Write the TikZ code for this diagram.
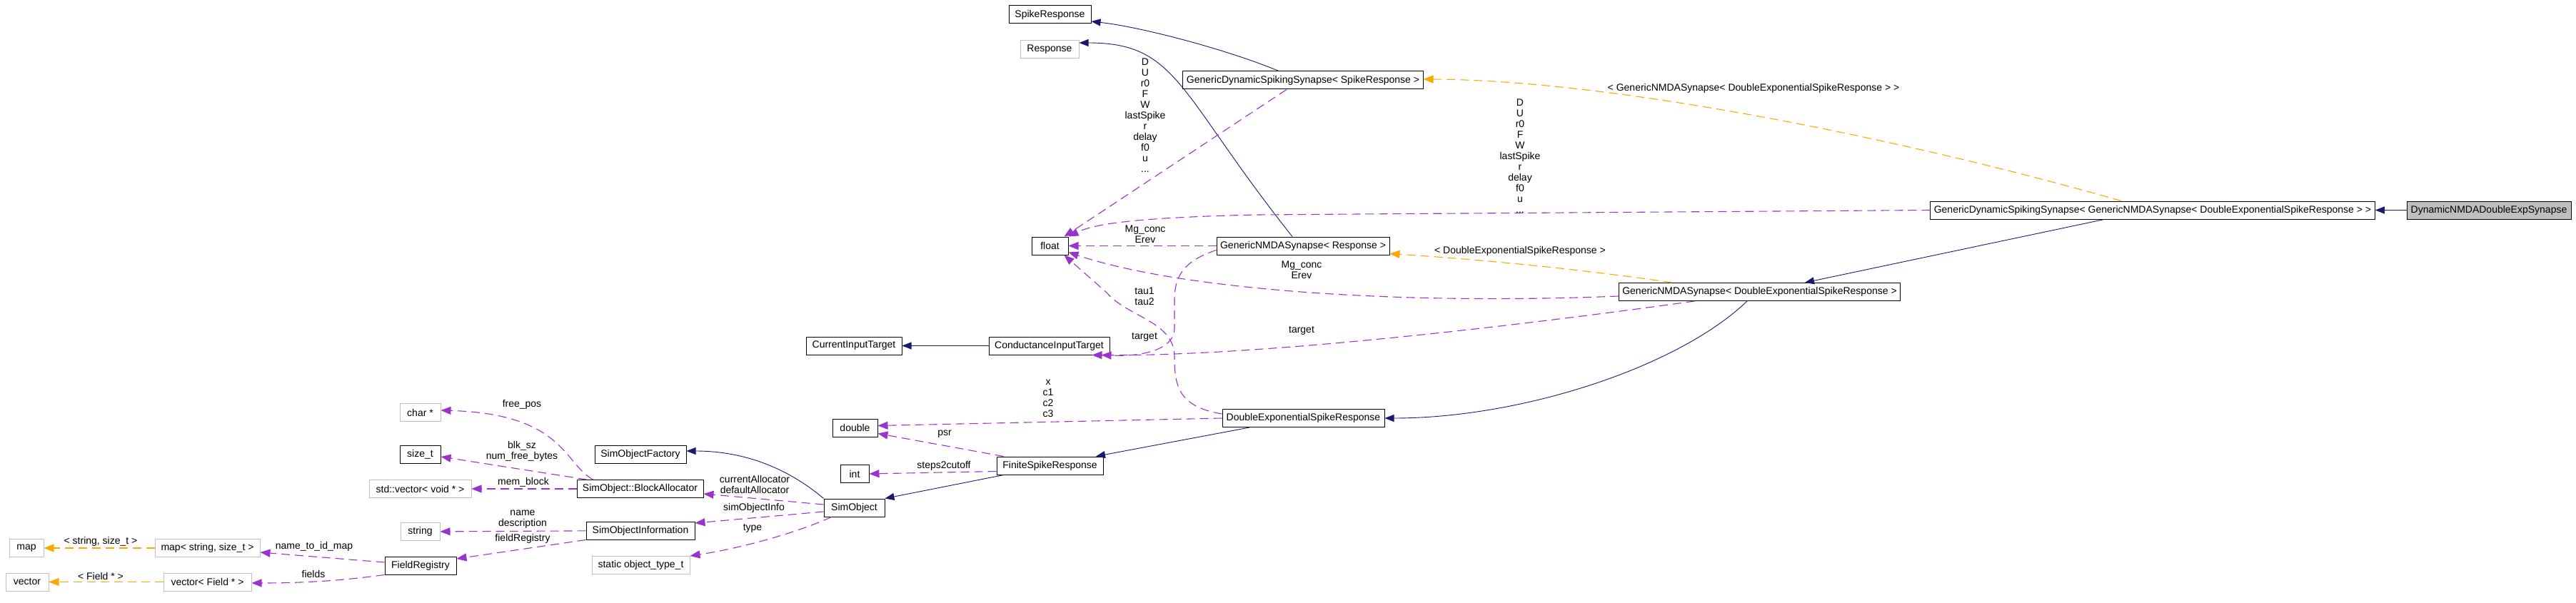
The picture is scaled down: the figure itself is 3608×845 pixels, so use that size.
\documentclass[tikz,border=0pt]{standalone}
\usepackage{fontspec}
\setmainfont{Liberation Sans}
\usetikzlibrary{arrows.meta}

\definecolor{edgeblue}{RGB}{25,25,112}
\definecolor{mempurple}{RGB}{154,50,205}
\definecolor{tplorange}{RGB}{255,165,0}
\definecolor{extgray}{RGB}{191,191,191}
\newcommand{\dfont}{\fontsize{14}{15}\selectfont}

\begin{document}
\begin{tikzpicture}
    [x=1pt, y=-1pt,
    block/.style={rectangle, draw=black, line width=1pt, minimum height=25pt,
    inner xsep=5pt, inner ysep=2pt, font=\dfont},
    ext/.style={block, draw=extgray},
    inh/.style={draw=edgeblue, line width=0.9pt, -{Triangle[length=13pt,width=10pt]}},
    mem/.style={draw=mempurple, line width=1.1pt, dash pattern=on 12pt off 7pt,
    -{Triangle[length=14pt,width=11pt]}},
    tpl/.style={mem, draw=tplorange},
    lbl/.style={font=\dfont, align=center, inner sep=0pt}]

    \useasboundingbox (0,0) rectangle (3608,845);

    \node [block, fill=extgray, minimum width=230pt] (dyn_nmda) at (3486,294.5) {DynamicNMDADoubleExpSynapse};
    \node [block, minimum width=606pt] (gdss_nmda) at (3015,294.5) {GenericDynamicSpikingSynapse< GenericNMDASynapse< DoubleExponentialSpikeResponse > >};
    \node [block, minimum width=389pt] (nmda_desr) at (2464.5,409) {GenericNMDASynapse< DoubleExponentialSpikeResponse >};
    \node [block, minimum width=334pt] (gdss_spike) at (1825,112.5) {GenericDynamicSpikingSynapse< SpikeResponse >};
    \node [block, minimum width=242pt] (nmda_resp) at (1825,344.5) {GenericNMDASynapse< Response >};
    \node [block, minimum width=227pt] (desr) at (1825.5,586) {DoubleExponentialSpikeResponse};
    \node [block, minimum width=115pt] (spike_resp) at (1470.5,20.5) {SpikeResponse};
    \node [ext, minimum width=82pt] (response) at (1470,69) {Response};
    \node [block, minimum width=51pt] (float_ty) at (1470.5,344.5) {float};
    \node [block, minimum width=169pt] (cond_target) at (1469.5,484.5) {ConductanceInputTarget};
    \node [block, minimum width=149pt] (finite_resp) at (1470.5,652.5) {FiniteSpikeResponse};
    \node [block, minimum width=134pt] (cur_target) at (1196,484.5) {CurrentInputTarget};
    \node [block, minimum width=63pt] (double_ty) at (1197.5,599.5) {double};
    \node [block, minimum width=40pt] (int_ty) at (1197,664) {int};
    \node [block, minimum width=85pt] (sim_obj) at (1196.5,711.5) {SimObject};
    \node [block, minimum width=128pt] (sim_factory) at (897,636.5) {SimObjectFactory};
    \node [block, minimum width=177pt] (block_alloc) at (896.5,685) {SimObject::BlockAllocator};
    \node [block, minimum width=152pt] (sim_info) at (897,743.5) {SimObjectInformation};
    \node [ext, minimum width=137pt] (obj_type) at (897.5,792) {static object\_type\_t};
    \node [ext, minimum width=57pt] (char_ptr) at (588.5,578) {char *};
    \node [block, minimum width=57pt] (size_ty) at (588.5,637) {size\_t};
    \node [ext, minimum width=143pt] (vec_void) at (588.5,685) {std::vector< void * >};
    \node [ext, minimum width=55pt] (string_ty) at (588.5,745) {string};
    \node [block, minimum width=100pt] (field_reg) at (589,792.5) {FieldRegistry};
    \node [ext, minimum width=147pt] (map_ss) at (290.5,768) {map< string, size\_t >};
    \node [ext, minimum width=123pt] (vec_field) at (290.5,815.5) {vector< Field * >};
    \node [ext, minimum width=48pt] (map_ty) at (37,768) {map};
    \node [ext, minimum width=60pt] (vec_ty) at (38,815.5) {vector};

    % inheritance
    \draw [inh] (dyn_nmda) -- (gdss_nmda);
    \draw [inh] ([xshift=-68pt]gdss_nmda.south) -- ([xshift=63.5pt]nmda_desr.north);
    \draw [inh] ([xshift=-17.5pt]nmda_desr.south) .. controls (2350,515) and (2130,586) .. (desr.east);
    \draw [inh] ([xshift=-15pt]nmda_resp.north) .. controls (1650,130) and (1650,60) .. ([yshift=9pt]response.east);
    \draw [inh] ([xshift=-34pt]gdss_spike.north) .. controls (1720,70) and (1600,38) .. ([yshift=-9.5pt]spike_resp.east);
    \draw [inh] (cond_target) -- (cur_target);
    \draw [inh] ([xshift=-75.5pt]desr.south) -- ([xshift=64.5pt]finite_resp.north);
    \draw [inh] ([xshift=-64.5pt]finite_resp.south) -- (sim_obj.north east);
    \draw [inh] (sim_obj.north west) .. controls (1120,670) and (1060,632) .. ([yshift=4.5pt]sim_factory.east);

    % template arguments
    \draw [tpl] ([xshift=-44pt]gdss_nmda.north) .. controls (2650,190) and (2250,112) .. ([yshift=1.5pt]gdss_spike.east);
    \node [lbl] (l_tpl_nmda) at (2456,124) {< GenericNMDASynapse< DoubleExponentialSpikeResponse > >};
    \draw [tpl] ([xshift=-123pt]nmda_desr.north) .. controls (2200,375) and (2050,362) .. ([yshift=-11pt]nmda_resp.east);
    \node [lbl] (l_tpl_desr) at (2129,352) {< DoubleExponentialSpikeResponse >};
    \draw [tpl] (map_ss) -- (map_ty);
    \node [lbl] (l_tpl_map) at (141,759) {< string, size\_t >};
    \draw [tpl] (vec_field) -- (vec_ty);
    \node [lbl] (l_tpl_vec) at (141,807) {< Field * >};

    % members
    \draw [mem] ([xshift=-23pt]gdss_spike.south) -- ([xshift=20pt]float_ty.north);
    \node [lbl] (l_spike_vars) at (1604,162) {D\\U\\r0\\F\\W\\lastSpike\\r\\delay\\f0\\u\\...};
    \draw [mem] (gdss_nmda.west) -- (1760,301) .. controls (1580,305) and (1530,315) .. (float_ty.north east);
    \node [lbl] (l_nmda_vars) at (2129,219) {D\\U\\r0\\F\\W\\lastSpike\\r\\delay\\f0\\u\\...};
    \draw [mem] (nmda_resp) -- (float_ty);
    \node [lbl] (l_mg_resp) at (1604,328) {Mg\_conc\\Erev};
    \draw [mem] ([yshift=-6pt]nmda_desr.west) .. controls (1950,428) and (1650,405) .. ([yshift=-9pt]float_ty.east);
    \node [lbl] (l_mg_desr) at (1823,378) {Mg\_conc\\Erev};
    \draw [mem] ([yshift=6pt]desr.west) .. controls (1650,570) and (1645,540) .. (1645,500)
        .. controls (1645,450) and (1580,445) .. (1550,410) -- ([xshift=20pt]float_ty.south);
    \node [lbl] (l_tau) at (1603,415) {tau1\\tau2};
    \draw [mem] ([yshift=-6pt]nmda_resp.west) .. controls (1660,365) and (1645,385) .. (1645,420) -- (1645,460)
        .. controls (1645,490) and (1600,500) .. ([xshift=-12pt]cond_target.south east);
    \node [lbl] (l_target_resp) at (1603,472) {target};
    \draw [mem] ([xshift=-91pt]nmda_desr.south) .. controls (2100,460) and (1750,500) .. ([xshift=-25pt]cond_target.south east);
    \node [lbl] (l_target_desr) at (1823,463) {target};
    \draw [mem] (desr.west) -- ([yshift=3pt]double_ty.east);
    \node [lbl] (l_coef) at (1468,558) {x\\c1\\c2\\c3};
    \draw [mem] ([xshift=-65pt]finite_resp.north) -- ([yshift=-8pt]double_ty.east);
    \node [lbl] (l_psr) at (1323,608) {psr};
    \draw [mem] ([yshift=-8pt]finite_resp.west) -- (int_ty.east);
    \node [lbl] (l_steps) at (1322,653) {steps2cutoff};
    \draw [mem] ([yshift=4.5pt]sim_obj.west) -- ([yshift=-7pt]block_alloc.east);
    \node [lbl] (l_alloc) at (1057,679) {currentAllocator\\defaultAllocator};
    \draw [mem] ([yshift=-5.5pt]sim_obj.west) -- ([yshift=10.5pt]sim_info.east);
    \node [lbl] (l_info) at (1056,712) {simObjectInfo};
    \draw [mem] ([xshift=-32pt]sim_obj.south) .. controls (1120,745) and (1040,768) .. (obj_type.north east);
    \node [lbl] (l_type) at (1054,740) {type};
    \draw [mem] ([xshift=-66pt]block_alloc.north) .. controls (790,650) and (790,580) .. ([yshift=3pt]char_ptr.east);
    \node [lbl] (l_free) at (731,567) {free\_pos};
    \draw [mem] ([xshift=-75pt]block_alloc.north) -- ([yshift=-3pt]size_ty.east);
    \node [lbl] (l_blk) at (731,632) {blk\_sz\\num\_free\_bytes};
    \draw [mem] (block_alloc) -- (vec_void);
    \node [lbl] (l_mem) at (733,676) {mem\_block};
    \draw [mem] (sim_info) -- (string_ty);
    \node [lbl] (l_name) at (732,728) {name\\description};
    \draw [mem] (sim_info.south west) -- ([yshift=9.5pt]field_reg.east);
    \node [lbl] (l_freg) at (732,755) {fieldRegistry};
    \draw [mem] ([yshift=4.5pt]field_reg.west) -- ([yshift=-6pt]map_ss.east);
    \node [lbl] (l_idmap) at (440,766) {name\_to\_id\_map};
    \draw [mem] (field_reg.south west) .. controls (490,812) and (440,817) .. ([yshift=-1.5pt]vec_field.east);
    \node [lbl] (l_fields) at (439,804) {fields};
\end{tikzpicture}
\end{document}
